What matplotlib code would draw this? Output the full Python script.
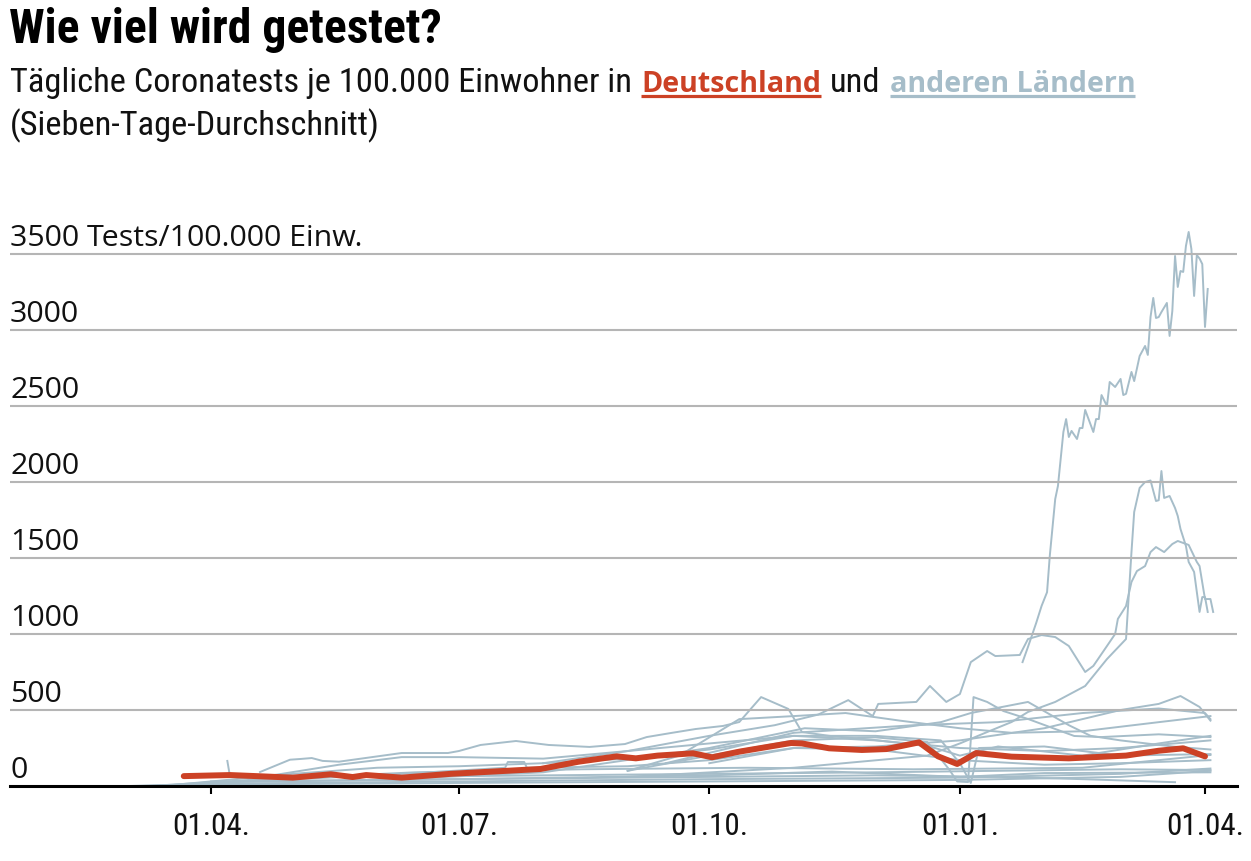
import os
import matplotlib
matplotlib.use("Agg")
import matplotlib.pyplot as plt
import matplotlib.dates as mdates
from matplotlib import font_manager as fm
from matplotlib.font_manager import FontProperties
from matplotlib.lines import Line2D

# ---------------- data ----------------
title = "Wie viel wird getestet?"
sub_1 = "Tägliche Coronatests je 100.000 Einwohner in"
sub_de = "Deutschland"
sub_und = "und"
sub_other = "anderen Ländern"
sub_2 = "(Sieben-Tage-Durchschnitt)"
y_ticks = [0, 500, 1000, 1500, 2000, 2500, 3000, 3500]
y_unit = " Tests/100.000 Einw."
x_ticks = ["2020-04-01", "2020-07-01", "2020-10-01", "2021-01-01", "2021-04-01"]

de_dates = ["2020-03-22", "2020-04-08", "2020-04-19", "2020-05-01", "2020-05-15", "2020-05-23",
            "2020-05-28", "2020-06-10", "2020-06-28", "2020-07-31", "2020-08-14", "2020-08-28",
            "2020-09-04", "2020-09-12", "2020-09-25", "2020-10-02", "2020-10-12", "2020-10-31",
            "2020-11-04", "2020-11-14", "2020-11-26", "2020-12-05", "2020-12-17", "2020-12-24",
            "2020-12-31", "2021-01-07", "2021-01-20", "2021-02-10", "2021-03-03", "2021-03-15",
            "2021-03-24", "2021-04-01"]
de_vals = [65, 72, 64, 55, 77, 59, 72, 55, 80, 112, 160, 195, 182, 200, 215, 189, 226, 283,
           280, 248, 237, 243, 287, 195, 145, 217, 193, 182, 200, 232, 248, 195]

top_dates = ["2021-01-24", "2021-01-26", "2021-01-29", "2021-01-31", "2021-02-02", "2021-02-03",
             "2021-02-05", "2021-02-06", "2021-02-08", "2021-02-09", "2021-02-10", "2021-02-11",
             "2021-02-13", "2021-02-14", "2021-02-15", "2021-02-16", "2021-02-19", "2021-02-20",
             "2021-02-21", "2021-02-22", "2021-02-24", "2021-02-25", "2021-02-27", "2021-03-01",
             "2021-03-02", "2021-03-03", "2021-03-05", "2021-03-06", "2021-03-08", "2021-03-09",
             "2021-03-10", "2021-03-11", "2021-03-12", "2021-03-13", "2021-03-14", "2021-03-15",
             "2021-03-16", "2021-03-18", "2021-03-19", "2021-03-20", "2021-03-21", "2021-03-22",
             "2021-03-23", "2021-03-24", "2021-03-25", "2021-03-26", "2021-03-27", "2021-03-28",
             "2021-03-29", "2021-03-30", "2021-03-31", "2021-04-01", "2021-04-02"]
top_vals = [815, 915, 1072, 1185, 1275, 1513, 1888, 1974, 2329, 2414, 2296, 2336, 2283, 2355,
            2355, 2474, 2329, 2414, 2414, 2572, 2500, 2658, 2625, 2678, 2572, 2580, 2724, 2664,
            2829, 2862, 2895, 2836, 3086, 3211, 3079, 3085, 3118, 3178, 2961, 3125, 3487, 3283,
            3388, 3382, 3553, 3645, 3533, 3224, 3493, 3470, 3434, 3020, 3270]

a_dates = ["2020-09-01", "2020-11-01", "2020-12-20", "2021-01-01", "2021-01-11", "2021-01-20",
           "2021-01-26", "2021-02-05", "2021-02-16", "2021-02-24", "2021-03-03", "2021-03-05",
           "2021-03-06", "2021-03-08", "2021-03-10", "2021-03-12", "2021-03-14", "2021-03-15",
           "2021-03-16", "2021-03-17", "2021-03-19", "2021-03-21", "2021-03-22", "2021-03-23",
           "2021-03-25", "2021-03-26", "2021-03-27", "2021-03-28", "2021-03-29", "2021-03-30",
           "2021-03-31", "2021-04-01", "2021-04-02"]
a_vals = [60, 120, 200, 280, 355, 421, 487, 553, 658, 835, 967, 1539, 1803, 1961, 2000, 2010,
          1875, 1880, 2072, 1895, 1908, 1829, 1776, 1691, 1579, 1474, 1441, 1408, 1276, 1145,
          1243, 1243, 1145]

b_dates = ["2020-08-01", "2020-09-01", "2020-10-01", "2020-10-25", "2020-11-10", "2020-11-21",
           "2020-11-30", "2020-12-02", "2020-12-16", "2020-12-21", "2020-12-27", "2021-01-01",
           "2021-01-05", "2021-01-11", "2021-01-14", "2021-01-18", "2021-01-23", "2021-01-26",
           "2021-01-31", "2021-02-05", "2021-02-10", "2021-02-16", "2021-02-19", "2021-02-24",
           "2021-02-27", "2021-02-28", "2021-03-03", "2021-03-05", "2021-03-07", "2021-03-10",
           "2021-03-12", "2021-03-14", "2021-03-17", "2021-03-20", "2021-03-22", "2021-03-26",
           "2021-03-29", "2021-03-30", "2021-04-01", "2021-04-03", "2021-04-04"]
b_vals = [150, 230, 330, 400, 470, 565, 460, 540, 553, 658, 553, 605, 815, 888, 855, 858, 862,
          967, 993, 980, 921, 750, 790, 921, 1000, 1099, 1184, 1342, 1414, 1447, 1539, 1572,
          1539, 1592, 1612, 1586, 1474, 1447, 1230, 1230, 1145]

c_dates = ["2020-09-01", "2020-10-01", "2020-11-01", "2020-12-01", "2020-12-20", "2020-12-28",
           "2020-12-31", "2021-01-04", "2021-01-06", "2021-01-11", "2021-01-17", "2021-01-26",
           "2021-02-05", "2021-02-12", "2021-02-22", "2021-03-15", "2021-04-03"]
c_vals = [100, 200, 300, 320, 290, 110, 30, 26, 585, 553, 493, 441, 375, 329, 322, 340, 322]

d_dates = ["2020-06-01", "2020-08-01", "2020-10-01", "2020-11-05", "2020-12-01", "2020-12-25",
           "2021-01-05", "2021-01-26", "2021-02-10", "2021-02-18", "2021-03-01", "2021-03-20",
           "2021-04-03"]
d_vals = [40, 90, 250, 380, 360, 420, 480, 553, 400, 330, 300, 260, 240]

e_dates = ["2020-10-01", "2020-11-01", "2020-12-01", "2021-01-01", "2021-02-01", "2021-03-01",
           "2021-03-15", "2021-03-23", "2021-03-30", "2021-04-03"]
e_vals = [150, 250, 260, 300, 380, 500, 540, 592, 520, 430]

f_dates = ["2020-09-15", "2020-11-01", "2020-12-15", "2021-01-15", "2021-02-15", "2021-03-15",
           "2021-04-01", "2021-04-03"]
f_vals = [150, 350, 400, 420, 480, 510, 480, 440]

g_dates = ["2020-04-19", "2020-04-30", "2020-05-04", "2020-05-08", "2020-05-12", "2020-05-18",
           "2020-06-10", "2020-06-27", "2020-07-01", "2020-07-09", "2020-07-22", "2020-08-03",
           "2020-08-18", "2020-08-31", "2020-09-08", "2020-09-17", "2020-09-26", "2020-10-06",
           "2020-10-12", "2020-10-20", "2020-10-30", "2020-11-04", "2020-11-14", "2020-12-02",
           "2020-12-21", "2021-01-01", "2021-01-15", "2021-02-15", "2021-03-15", "2021-04-03"]
g_vals = [92, 173, 178, 184, 165, 160, 217, 217, 230, 270, 296, 270, 257, 276, 322, 349, 375,
          395, 421, 585, 507, 355, 330, 300, 260, 200, 260, 200, 280, 330]

m1_dates = ["2020-04-20", "2020-05-18", "2020-06-10", "2020-07-01", "2020-08-01", "2020-09-01",
            "2020-10-01", "2020-11-01", "2020-12-01", "2021-01-01", "2021-02-01", "2021-03-01",
            "2021-04-03"]
m1_vals = [60, 140, 190, 190, 180, 230, 280, 330, 300, 250, 230, 250, 300]

m2_dates = ["2020-04-01", "2020-05-01", "2020-06-01", "2020-07-01", "2020-08-01", "2020-09-01",
            "2020-10-01", "2020-11-01", "2020-12-01", "2020-12-25", "2021-01-01", "2021-01-05",
            "2021-01-08", "2021-02-01", "2021-03-01", "2021-04-03"]
m2_vals = [30, 80, 120, 130, 150, 180, 240, 330, 330, 300, 150, 20, 250, 260, 200, 210]

m3_dates = ["2020-04-01", "2020-06-01", "2020-07-18", "2020-07-19", "2020-07-25", "2020-07-26",
            "2020-09-01", "2020-10-01", "2020-11-01", "2020-12-01", "2021-01-01", "2021-02-01",
            "2021-03-01", "2021-04-03"]
m3_vals = [20, 70, 120, 158, 158, 120, 130, 170, 250, 240, 170, 140, 150, 170]

m4_dates = ["2020-09-01", "2020-09-20", "2020-10-12", "2020-11-01", "2020-11-20", "2020-12-10",
            "2021-01-01", "2021-01-20", "2021-02-15", "2021-03-15", "2021-04-03"]
m4_vals = [100, 200, 440, 460, 480, 430, 380, 350, 360, 420, 460]

k1_dates = ["2020-03-02", "2020-04-01", "2020-07-01", "2020-10-01", "2021-01-01", "2021-03-01", "2021-04-03"]
k1_vals = [0, 15, 30, 45, 55, 80, 115]
k2_dates = ["2020-03-06", "2020-04-01", "2020-07-01", "2020-10-01", "2021-01-01", "2021-03-01", "2021-04-03"]
k2_vals = [0, 10, 20, 30, 40, 60, 100]
k3_dates = ["2020-03-10", "2020-04-01", "2020-07-01", "2020-10-01", "2020-11-15", "2021-01-01", "2021-02-01", "2021-04-03"]
k3_vals = [0, 25, 45, 70, 95, 60, 85, 90]
k4_dates = ["2020-03-14", "2020-04-01", "2020-06-01", "2020-09-01", "2020-12-01", "2021-01-15", "2021-02-15", "2021-03-21"]
k4_vals = [0, 30, 40, 55, 70, 60, 45, 25]
k5_dates = ["2020-04-07", "2020-04-08", "2020-06-01", "2020-09-01", "2020-12-01", "2021-03-01", "2021-04-03"]
k5_vals = [165, 60, 60, 75, 90, 110, 105]
k6_dates = ["2020-03-18", "2020-04-15", "2020-06-15", "2020-08-15", "2020-10-15", "2020-12-15", "2021-02-15", "2021-04-03"]
k6_vals = [0, 40, 90, 110, 120, 110, 120, 204]

other_series = [(k1_dates, k1_vals), (k2_dates, k2_vals), (k3_dates, k3_vals), (k4_dates, k4_vals),
                (k5_dates, k5_vals), (k6_dates, k6_vals), (m1_dates, m1_vals), (m2_dates, m2_vals),
                (m3_dates, m3_vals), (m4_dates, m4_vals), (g_dates, g_vals), (f_dates, f_vals),
                (e_dates, e_vals), (d_dates, d_vals), (c_dates, c_vals), (b_dates, b_vals),
                (a_dates, a_vals), (top_dates, top_vals)]

# ---------------- style ----------------
RED = "#cc4125"
BLUE = "#a6bdc9"
GRID = "#b5b5b5"
W, H = 1251, 862

FMAP = {}
for f in fm.fontManager.ttflist:
    FMAP.setdefault(os.path.basename(f.fname).lower(), f.fname)


def font(cands, family, weight="normal"):
    for c in cands:
        if c in FMAP:
            return FontProperties(fname=FMAP[c])
    return FontProperties(family=family, weight=weight)


fp_cond = font(["robotocondensed-regular.ttf", "liberationsansnarrow-regular.ttf",
                "notosans-condensed.ttf", "dejavusanscondensed.ttf"], "Roboto")
fp_title = font(["robotocondensed-black.ttf", "robotocondensed-extrabold.ttf",
                 "robotocondensed-bold.ttf", "liberationsansnarrow-bold.ttf",
                 "dejavusanscondensed-bold.ttf", "roboto-black.ttf", "roboto-bold.ttf"],
                "DejaVu Sans", "bold")
fp_bold = font(["notosans-bold.ttf", "opensans-bold.ttf", "roboto-bold.ttf",
                "liberationsans-bold.ttf", "dejavusans-bold.ttf"], "DejaVu Sans", "bold")
fp_ylab = font(["notosans-regular.ttf", "opensans-regular.ttf", "roboto-regular.ttf"],
               "DejaVu Sans")

fig = plt.figure(figsize=(W / 100, H / 100), dpi=100)
fig.patch.set_facecolor("white")
renderer = fig.canvas.get_renderer()


def fitted(fp, text, target_px):
    p = fp.copy()
    p.set_size(20)
    t = fig.text(0, 0, text, fontproperties=p)
    w = t.get_window_extent(renderer).width
    t.remove()
    q = fp.copy()
    q.set_size(20 * target_px / w)
    return q


# ---------------- header ----------------
fp_t = fitted(fp_title, title, 430)
fig.text(9 / W, 1 - 43 / H, title, fontproperties=fp_t, color="#000000", va="baseline", ha="left")

fp_s = fitted(fp_cond, sub_1, 620)
fp_b = fitted(fp_bold, sub_de, 180)
pieces = [(sub_1, fp_s, "#111111", False), (sub_de, fp_b, RED, True),
          (sub_und, fp_s, "#111111", False), (sub_other, fp_b, BLUE, True)]
x = 10
y1 = 1 - 92 / H
for txt, fp, col, ul in pieces:
    t = fig.text(x / W, y1, txt, fontproperties=fp, color=col, va="baseline", ha="left")
    bb = t.get_window_extent(renderer)
    if ul:
        fig.add_artist(Line2D([bb.x0 / W, bb.x1 / W], [1 - 96.5 / H] * 2, color=col, lw=2.3,
                              solid_capstyle="butt", transform=fig.transFigure))
    x = bb.x1 + 9
fig.text(10 / W, 1 - 135 / H, sub_2, fontproperties=fp_s, color="#111111", va="baseline", ha="left")

# ---------------- axes ----------------
px_day = 994 / 365.0
d0 = mdates.datestr2num("2020-04-01")
d1 = mdates.datestr2num("2021-04-01")
ax = fig.add_axes([10 / W, 75 / H, 1227 / W, 562.4 / H])
ax.set_xlim(d0 - 201 / px_day, d1 + 32 / px_day)
ax.set_ylim(0, 3700)
ax.set_facecolor("none")

for dts, vals in other_series:
    ax.plot(mdates.datestr2num(dts), vals, color=BLUE, lw=1.4, zorder=1, solid_joinstyle="round")
ax.plot(mdates.datestr2num(de_dates), de_vals, color=RED, lw=4.3, zorder=4,
        solid_joinstyle="round", solid_capstyle="round")

for v in y_ticks[1:]:
    ax.axhline(v, color=GRID, lw=1.5, zorder=2)

fp_y = fitted(fp_ylab, str(y_ticks[-1]) + y_unit, 352)
for v in y_ticks:
    lab = str(v) + (y_unit if v == y_ticks[-1] else "")
    ax.annotate(lab, xy=(0, v), xycoords=("axes fraction", "data"), xytext=(0, 6.8),
                textcoords="offset points", va="baseline", ha="left", fontproperties=fp_y,
                color="#111111", zorder=5)

for s in ["top", "right", "left"]:
    ax.spines[s].set_visible(False)
ax.spines["bottom"].set_linewidth(2.2)
ax.spines["bottom"].set_color("black")
ax.spines["bottom"].set_zorder(6)
ax.set_yticks([])
ax.set_xticks(mdates.datestr2num(x_ticks))
ax.xaxis.set_major_formatter(mdates.DateFormatter("%d.%m."))
ax.tick_params(axis="x", length=6, width=1.5, color="black", pad=12)
fp_x = fitted(fp_cond, "01.04.", 78)
for lab in ax.get_xticklabels():
    lab.set_fontproperties(fp_x)
    lab.set_color("#111111")

fig.savefig("out.png", dpi=100, facecolor="white")
